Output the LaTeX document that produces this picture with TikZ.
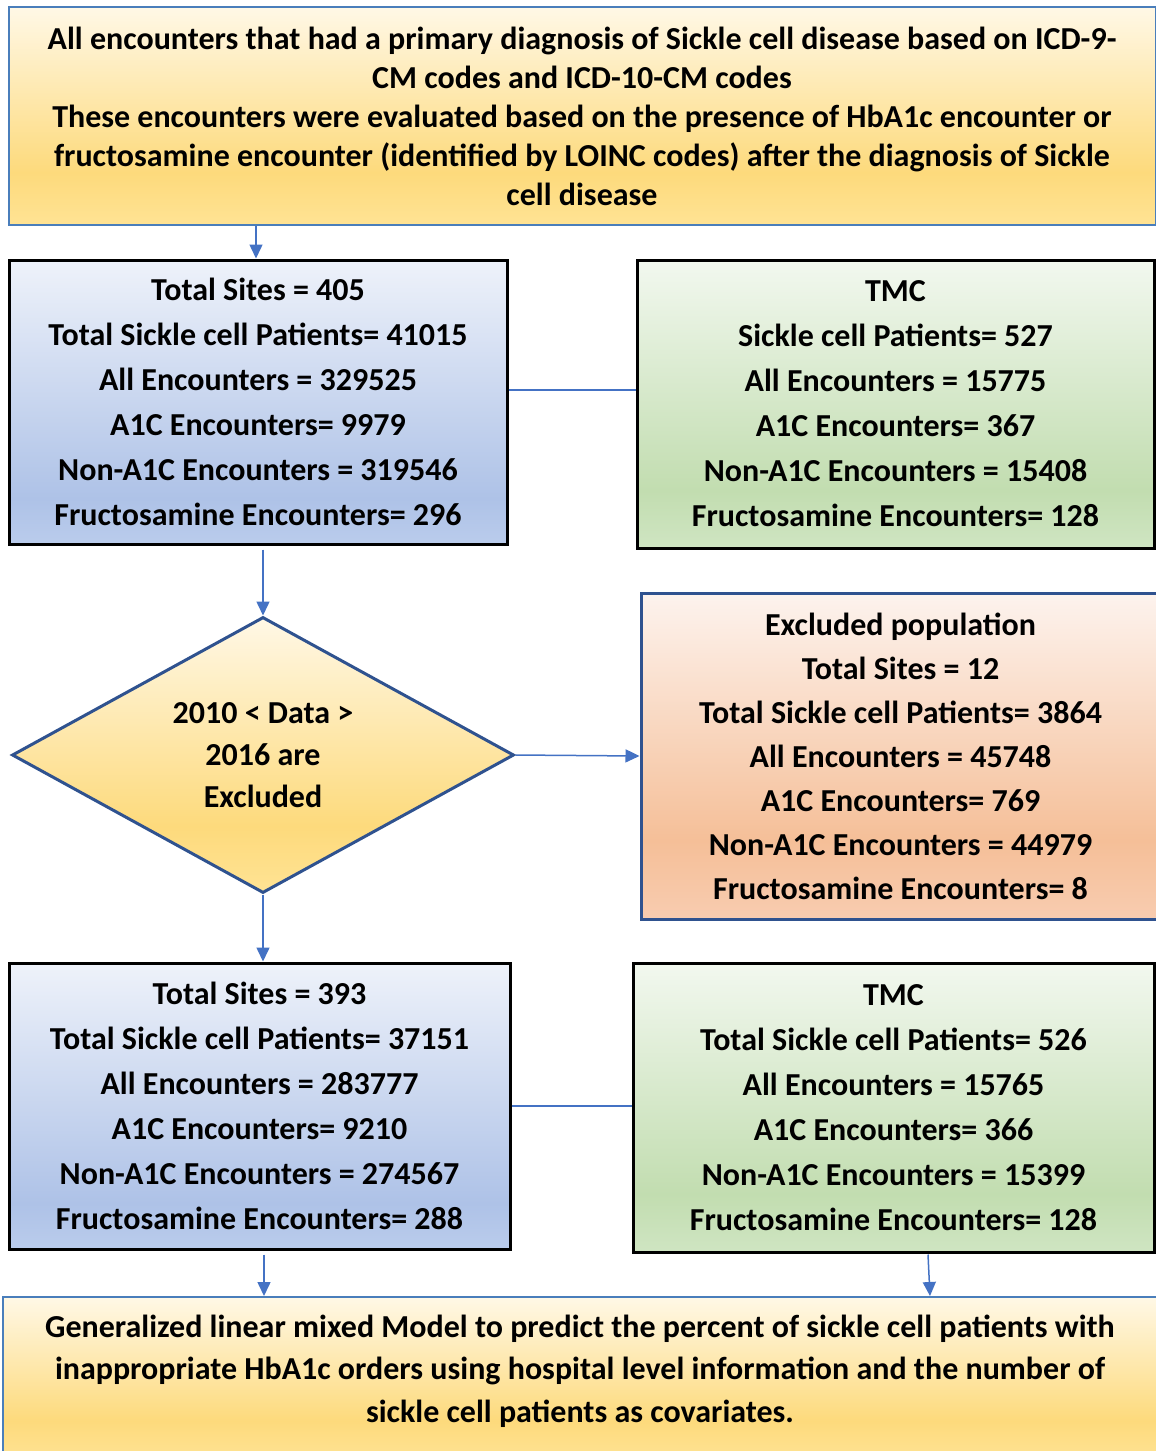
\documentclass[tikz,border=0pt]{standalone}
\usepackage{fontspec}
\setmainfont{Carlito}
\usetikzlibrary{shapes.geometric,arrows.meta}

\definecolor{goldtop}{HTML}{FFF8E6}
\definecolor{golddark}{HTML}{FDDA7C}
\definecolor{goldbot}{HTML}{FFE394}
\definecolor{bluetop}{HTML}{EEF2FA}
\definecolor{bluedark}{HTML}{AEC2E7}
\definecolor{bluebot}{HTML}{BACCEC}
\definecolor{greentop}{HTML}{F2F8EF}
\definecolor{greendark}{HTML}{C2DDB0}
\definecolor{greenbot}{HTML}{CFE5C2}
\definecolor{peachtop}{HTML}{FDF3EE}
\definecolor{peachdark}{HTML}{F5BF98}
\definecolor{peachbot}{HTML}{F8CCB0}
\definecolor{arrowblue}{HTML}{4472C4}
\definecolor{steelline}{HTML}{4A7EBB}
\definecolor{darkline}{HTML}{2F528F}

\pgfdeclareverticalshading{goldfill}{100bp}{color(0bp)=(goldbot); color(25bp)=(goldbot); color(37bp)=(golddark); color(75bp)=(goldtop); color(100bp)=(goldtop)}
\pgfdeclareverticalshading{bluefill}{100bp}{color(0bp)=(bluebot); color(25bp)=(bluebot); color(33bp)=(bluedark); color(75bp)=(bluetop); color(100bp)=(bluetop)}
\pgfdeclareverticalshading{greenfill}{100bp}{color(0bp)=(greenbot); color(25bp)=(greenbot); color(35bp)=(greendark); color(75bp)=(greentop); color(100bp)=(greentop)}
\pgfdeclareverticalshading{peachfill}{100bp}{color(0bp)=(peachbot); color(25bp)=(peachbot); color(37bp)=(peachdark); color(75bp)=(peachtop); color(100bp)=(peachtop)}

\begin{document}
\begin{tikzpicture}[x=1pt,y=-1pt,
    box/.style={rectangle, align=center, inner sep=0pt, font=\bfseries\fontsize{32}{45}\selectfont},
    sitebox/.style={box, shading=bluefill, draw=black, line width=3pt},
    tmcbox/.style={box, shading=greenfill, draw=black, line width=3pt},
    goldbox/.style={box, shading=goldfill, draw=steelline, line width=2pt},
    arr/.style={draw=arrowblue, line width=1.5pt, -{Triangle[length=14pt,width=13pt]}},
    link/.style={draw=arrowblue, line width=1.5pt}]
  \clip (0,0) rectangle (1156,1451);
  \fill[white] (0,0) rectangle (1156,1451);
  %cohort
  \node[goldbox, minimum width=1147, minimum height=218, font=\bfseries\fontsize{32}{39}\selectfont] (cohort) at (582,116)
    {All encounters that had a primary diagnosis of Sickle cell disease based on ICD-9-\\
     CM codes and ICD-10-CM codes\\
     These encounters were evaluated based on the presence of HbA1c encounter or\\
     fructosamine encounter (identified by LOINC codes) after the diagnosis of Sickle\\
     cell disease};
  %before exclusion
  \node[sitebox, minimum width=498, minimum height=284] (sitesa) at (258,402)
    {Total Sites = 405\\ Total Sickle cell Patients= 41015\\ All Encounters = 329525\\
     A1C Encounters= 9979\\ Non-A1C Encounters = 319546\\ Fructosamine Encounters= 296};
  \node[tmcbox, minimum width=517, minimum height=288] (tmca) at (895.5,404)
    {TMC\\ Sickle cell Patients= 527\\ All Encounters = 15775\\
     A1C Encounters= 367\\ Non-A1C Encounters = 15408\\ Fructosamine Encounters= 128};
  %exclusion
  \node[diamond, shading=goldfill, draw=darkline, line width=3pt, inner sep=0pt, align=center,
    minimum width=502, minimum height=276, aspect=1.82, font=\bfseries\fontsize{32}{42}\selectfont] (years) at (263,755)
    {2010 < Data >\\ 2016 are\\ Excluded};
  \node[box, shading=peachfill, draw=darkline, line width=3pt, minimum width=519, minimum height=326,
    font=\bfseries\fontsize{32}{44}\selectfont] (excl) at (900.5,756)
    {Excluded population\\ Total Sites = 12\\ Total Sickle cell Patients= 3864\\ All Encounters = 45748\\
     A1C Encounters= 769\\ Non-A1C Encounters = 44979\\ Fructosamine Encounters= 8};
  %after exclusion
  \node[sitebox, minimum width=501, minimum height=286] (sitesb) at (259.5,1106)
    {Total Sites = 393\\ Total Sickle cell Patients= 37151\\ All Encounters = 283777\\
     A1C Encounters= 9210\\ Non-A1C Encounters = 274567\\ Fructosamine Encounters= 288};
  \node[tmcbox, minimum width=521, minimum height=289] (tmcb) at (893.5,1107.5)
    {TMC\\ Total Sickle cell Patients= 526\\ All Encounters = 15765\\
     A1C Encounters= 366\\ Non-A1C Encounters = 15399\\ Fructosamine Encounters= 128};
  %model
  \node[goldbox, minimum width=1157, minimum height=163] (model) at (581.5,1378.5) {};
  \node[box, font=\bfseries\fontsize{32}{42.5}\selectfont] (modeltxt) at (580,1371)
    {Generalized linear mixed Model to predict the percent of sickle cell patients with\\
     inappropriate HbA1c orders using hospital level information and the number of\\
     sickle cell patients as covariates.};
  %connectors
  \draw[arr] ([xshift=-2pt]cohort.south -| sitesa.north) -- ([xshift=-2pt]sitesa.north);
  \draw[link] ([yshift=12pt]sitesa.east) -- ([yshift=12pt]sitesa.east -| tmca.west);
  \draw[arr] ([yshift=-4pt]sitesa.south -| years.north) -- (years.north);
  \draw[arr] (years.east) -- (excl.west);
  \draw[arr] (years.south) -- (years.south |- sitesb.north);
  \draw[link] (sitesb.east) -- (sitesb.east -| tmcb.west);
  \draw[arr] ([xshift=4.5pt,yshift=-4pt]sitesb.south) -- ([xshift=4.5pt]sitesb.south |- model.north);
  \draw[arr] ([xshift=34.5pt,yshift=-1pt]tmcb.south) -- ([xshift=36.5pt]tmcb.south |- model.north);
\end{tikzpicture}
\end{document}
